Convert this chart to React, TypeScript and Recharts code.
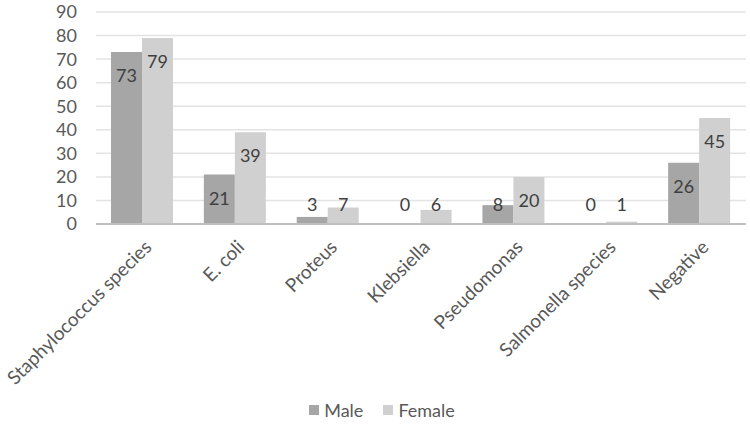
import { BarChart, Bar, XAxis, YAxis, CartesianGrid, Legend, LabelList } from 'recharts';

const organisms = [
  'Staphylococcus species',
  'E. coli',
  'Proteus',
  'Klebsiella',
  'Pseudomonas',
  'Salmonella species',
  'Negative',
];
const male = [73, 21, 3, 0, 8, 0, 26];
const female = [79, 39, 7, 6, 20, 1, 45];
const yTicks = [0, 10, 20, 30, 40, 50, 60, 70, 80, 90];

const MALE_COLOR = '#a6a6a6';
const FEMALE_COLOR = '#d0d0d0';
const FONT = 'Lato, "Open Sans", sans-serif';

const data = organisms.map((name, i) => ({ name, male: male[i], female: female[i] }));

// Excel-style "inside end" label, kept above the axis for short bars
function BarValue(props: any) {
  const { x, y, width, height, value } = props;
  const cy = Math.min(y + 23, y + height - 20);
  return (
    <text
      x={x + width / 2}
      y={cy}
      textAnchor="middle"
      dominantBaseline="central"
      fontFamily={FONT}
      fontSize={18}
      fill="#404040"
    >
      {value}
    </text>
  );
}

function CategoryTick({ x, y, payload }: any) {
  return (
    <g transform={`translate(${x + 5},${y + 11}) rotate(-45)`}>
      <text textAnchor="end" dominantBaseline="central" fontFamily={FONT} fontSize={19} fill="#595959">
        {payload.value}
      </text>
    </g>
  );
}

function LegendBox() {
  const items = [
    { label: 'Male', color: MALE_COLOR },
    { label: 'Female', color: FEMALE_COLOR },
  ];
  return (
    <div
      style={{
        display: 'flex',
        justifyContent: 'center',
        gap: 20,
        marginLeft: 18,
        fontFamily: FONT,
        fontSize: 18,
        color: '#595959',
      }}
    >
      {items.map(it => (
        <div key={it.label} style={{ display: 'flex', alignItems: 'center', gap: 5 }}>
          <span style={{ width: 10, height: 10, background: it.color, display: 'inline-block' }} />
          <span>{it.label}</span>
        </div>
      ))}
    </div>
  );
}

export default function App() {
  return (
    <div style={{ position: 'absolute', left: 0, top: 0, width: 750, height: 433, background: '#fff' }}>
      <BarChart
        width={750}
        height={433}
        data={data}
        margin={{ top: 12, right: 4, left: 0, bottom: 10 }}
        barGap={0}
      >
        <CartesianGrid vertical={false} stroke="#e3e3e3" strokeWidth={1.5} />
        <XAxis
          dataKey="name"
          interval={0}
          height={175}
          tickLine={false}
          axisLine={{ stroke: '#bfbfbf', strokeWidth: 2 }}
          tick={<CategoryTick />}
        />
        <YAxis
          width={96}
          domain={[0, 90]}
          ticks={yTicks}
          interval={0}
          tickLine={false}
          axisLine={false}
          tickMargin={13}
          tick={{ fontFamily: FONT, fontSize: 18, fill: '#595959' }}
        />
        <Legend verticalAlign="bottom" align="center" height={24} content={<LegendBox />} />
        <Bar dataKey="male" name="Male" fill={MALE_COLOR} barSize={31} minPointSize={1} isAnimationActive={false}>
          <LabelList dataKey="male" content={<BarValue />} />
        </Bar>
        <Bar dataKey="female" name="Female" fill={FEMALE_COLOR} barSize={31} minPointSize={1} isAnimationActive={false}>
          <LabelList dataKey="female" content={<BarValue />} />
        </Bar>
      </BarChart>
    </div>
  );
}
